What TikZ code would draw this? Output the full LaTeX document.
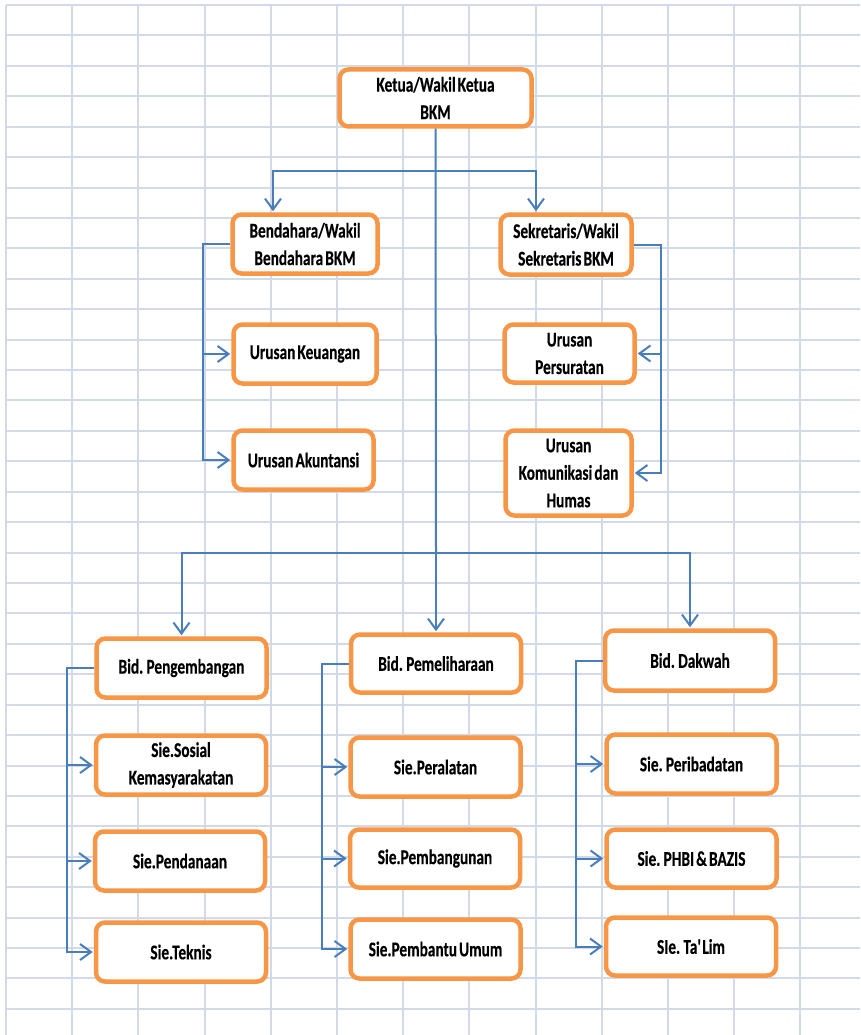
\documentclass[tikz,border=0pt]{standalone}
\usepackage{fontspec}
\setmainfont[FakeStretch=0.73, WordSpace=0.6, BoldFeatures={FakeBold=0.3}]{Carlito}
\usepackage{tikz}
\usetikzlibrary{positioning,arrows.meta,calc}
\definecolor{boxorange}{RGB}{247,150,70}
\definecolor{linkblue}{RGB}{74,126,187}
\definecolor{gridblue}{RGB}{210,218,232}

\begin{document}
\begin{tikzpicture} [x=1pt, y=-1pt,
      box/.style={draw=boxorange, line width=4.5pt, rounded corners=9pt, fill=white,
        minimum width=170pt, minimum height=59pt, align=center, inner sep=2pt,
        font=\bfseries\fontsize{21}{27.5}\selectfont},
      link/.style={draw=linkblue, line width=2pt},
      arr/.style={link, -{Straight Barb[length=11pt, width=16pt]}, shorten >=1pt}]

      \fill[white] (0,0) rectangle (860,1035);
      \useasboundingbox (0,0) rectangle (860,1035);
      \foreach \i in {0,...,12}
        \draw[gridblue, line width=2pt] (6+66.2*\i, 5) -- (6+66.2*\i, 1035);
      \foreach \j in {0,...,33}
        \draw[gridblue, line width=2pt] (6, 5+30.42*\j) -- (860, 5+30.42*\j);

      \node[box, minimum width=192pt, minimum height=57pt] (ketua) at (435.5,98) {Ketua/Wakil Ketua\\BKM};
      \node[box, minimum width=145pt] (bendahara) at (305,244) {Bendahara/Wakil\\Bendahara BKM};
      \node[box, minimum width=131pt, minimum height=60pt] (sekretaris) at (566,244.5) {Sekretaris/Wakil\\Sekretaris BKM};
      \node[box, minimum width=143pt] (keuangan) at (305,354) {Urusan Keuangan};
      \node[box, minimum width=140pt] (akuntansi) at (303.5,460) {Urusan Akuntansi};
      \node[box, minimum width=130pt, minimum height=58pt] (persuratan) at (569.5,353.5) {Urusan\\Persuratan};
      \node[box, minimum width=126pt, minimum height=85pt] (humas) at (568.5,473) {Urusan\\Komunikasi dan\\Humas};

      \node[box] (pengembangan) at (181.5,668) {Bid. Pengembangan};
      \node[box, minimum height=58pt] (pemeliharaan) at (436,663.5) {Bid. Pemeliharaan};
      \node[box, minimum height=60pt] (dakwah) at (690,660.5) {Bid. Dakwah};
      \node[box] (sosial) at (181,765) {Sie.Sosial\\Kemasyarakatan};
      \node[box] (pendanaan) at (180,861) {Sie.Pendanaan};
      \node[box] (teknis) at (181,952) {Sie.Teknis};
      \node[box] (peralatan) at (435.5,767) {Sie.Peralatan};
      \node[box, minimum height=58pt] (pembangunan) at (435,858.5) {Sie.Pembangunan};
      \node[box] (pembantu) at (435.5,949) {Sie.Pembantu Umum};
      \node[box] (peribadatan) at (691.5,764) {Sie. Peribadatan};
      \node[box, minimum height=58pt] (phbi) at (691.5,858.5) {Sie. PHBI \& BAZIS};
      \node[box, minimum height=58pt] (talim) at (691,946.5) {SIe. Ta\textquotesingle Lim};

      \coordinate (upper) at (436,171);
      \coordinate (lower) at (436,553);
      \draw[link] (ketua.south) -- (lower);
      \draw[arr] (upper) -| ([xshift=-32pt]bendahara.north);
      \draw[arr] (upper) -| ([xshift=-30pt]sekretaris.north);
      \foreach \b in {pengembangan, pemeliharaan, dakwah}
        \draw[arr] (lower) -| (\b.north);

      \foreach \c in {keuangan, akuntansi}
        \draw[arr] (bendahara.west) -- ++(-27,0) |- (\c.west);
      \foreach \c in {persuratan, humas}
        \draw[arr] (sekretaris.east) -- ++(27,0) |- (\c.east);
      \foreach \b/\c in {pengembangan/sosial, pengembangan/pendanaan, pengembangan/teknis,
        pemeliharaan/peralatan, pemeliharaan/pembangunan, pemeliharaan/pembantu,
        dakwah/peribadatan, dakwah/phbi, dakwah/talim}
        \draw[arr] (\b.west) -- ++(-27,0) |- (\c.west);
    \end{tikzpicture}
\end{document}
